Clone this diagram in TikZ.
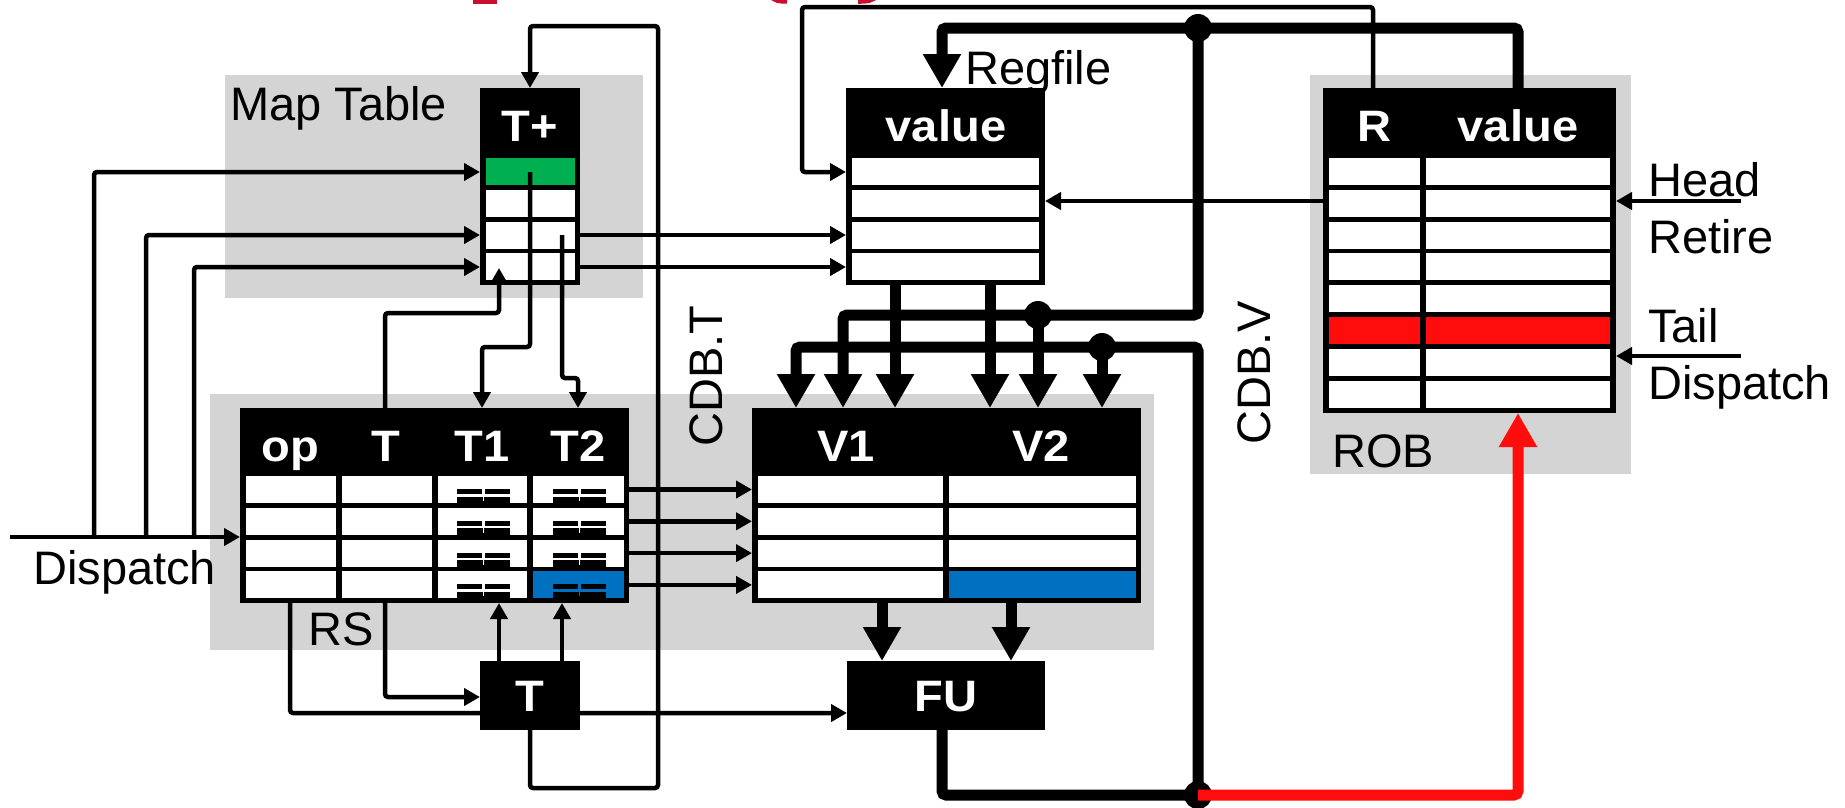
\documentclass[tikz,border=0pt]{standalone}
\usepackage{fontspec}
\setmainfont{Liberation Sans}
\newfontfamily\hdrfont[FakeStretch=1.07]{Liberation Sans}
\usetikzlibrary{arrows.meta}
\definecolor{panelgray}{RGB}{212,212,212}
\definecolor{gr}{RGB}{0,176,80}
\definecolor{rd}{RGB}{255,12,12}
\definecolor{bl}{RGB}{0,112,192}
\definecolor{crim}{RGB}{200,16,46}
\tikzset{
  wire/.style={line width=4.5pt, rounded corners=3pt},
  bus/.style={line width=11pt, rounded corners=4pt},
  arr/.style={-{Triangle[length=16pt,width=17pt]}},
  barr/.style={-{Triangle[length=34pt,width=36pt]}},
  lbl/.style={font=\fontsize{47}{50}\selectfont, inner sep=0pt},
  hdr/.style={font=\hdrfont\bfseries\fontsize{44}{47}\selectfont, text=white, inner sep=0pt},
  dotn/.style={circle, fill=black, inner sep=0pt, minimum size=28pt},
}
\begin{document}
\begin{tikzpicture}[x=1pt,y=-1pt]
\clip (0,0) rectangle (1845,807);
\fill[white] (0,0) rectangle (1845,807);

% red fragments at the top edge
\fill[crim] (473,0) rectangle (497,3.5);
\draw[crim, line width=4.5pt] (770,-5) to[out=-60,in=180] (787,1.5);
\draw[crim, line width=4.5pt] (858,1.5) to[out=0,in=-120] (877,-5);

% panels
\fill[panelgray] (225,75) rectangle (643,298);
\fill[panelgray] (210,394) rectangle (1154,650);
\fill[panelgray] (1310,75) rectangle (1631,474);

% panel labels
\node[lbl,anchor=base west] (lmap) at (230,120) {Map Table};
\node[lbl,anchor=base west] (lrs) at (308,645) {RS};
\node[lbl,anchor=base west] (lrob) at (1332,467) {ROB};
\node[lbl,anchor=base west] (lreg) at (965,84) {Regfile};
\node[lbl,anchor=base west] (lhead) at (1648,196) {Head};
\node[lbl,anchor=base west] (lret) at (1648,253) {Retire};
\node[lbl,anchor=base west] (ltail) at (1648,342) {Tail};
\node[lbl,anchor=base west] (ldisp2) at (1648,399) {Dispatch};
\node[lbl,anchor=base west] (ldisp) at (33,584) {Dispatch};
\node[lbl,rotate=90] (lcdbt) at (706,376) {CDB.T};
\node[lbl,rotate=90] (lcdbv) at (1254,373) {CDB.V};

% ---------- Map table ----------
\fill (480,88) rectangle (580,285);
\foreach \i in {0,...,3} \fill[white] (485.5,158+31.8*\i) rectangle (574.5,185+31.8*\i);
\fill[gr] (485.5,158) rectangle (574.5,185);
\node[hdr,anchor=base] (hTp) at (530,141) {T+};

% ---------- Regfile ----------
\fill (846,88) rectangle (1045,285);
\foreach \i in {0,...,3} \fill[white] (852,158+31.8*\i) rectangle (1039,185+31.8*\i);
\node[hdr,anchor=base] (hRv) at (946,141) {value};

% ---------- ROB ----------
\fill (1323,88) rectangle (1616,413);
\foreach \i in {0,...,7}{
  \fill[white] (1329,158+31.8*\i) rectangle (1419.5,185+31.8*\i);
  \fill[white] (1425.5,158+31.8*\i) rectangle (1610,185+31.8*\i);
}
\fill[rd] (1329,317) rectangle (1419.5,344);
\fill[rd] (1425.5,317) rectangle (1610,344);
\node[hdr,anchor=base] (hR) at (1374,141) {R};
\node[hdr,anchor=base] (hRobv) at (1518,141) {value};

% ---------- RS ----------
\fill (240,408) rectangle (629,603);
\foreach \i in {0,...,3}{
  \fill[white] (245.5,476+31.8*\i) rectangle (335.5,503+31.8*\i);
  \fill[white] (341.5,476+31.8*\i) rectangle (431.5,503+31.8*\i);
  \fill[white] (437.5,476+31.8*\i) rectangle (527,503+31.8*\i);
  \fill[white] (533,476+31.8*\i) rectangle (623.5,503+31.8*\i);
}
\fill[bl] (533,571.4) rectangle (623.5,598.4);
\foreach \i in {0,...,3}{
  \pgfmathsetmacro\yb{503+31.8*\i}
  \foreach \g in {483.5,579.5}{
    \fill (\g-27,\yb-14) rectangle (\g-1.5,\yb-9);
    \fill (\g+1.5,\yb-14) rectangle (\g+26,\yb-9);
    \fill (\g-27,\yb-6.5) rectangle (\g+26,\yb);
    \fill[white] (\g-0.8,\yb-6.5) rectangle (\g+0.8,\yb-2);
  }
}
\fill[bl] (578.7,591.9) rectangle (580.3,596.4);
\node[hdr,anchor=base] (hop) at (290,461) {op};
\node[hdr,anchor=base] (hT) at (386,461) {T};
\node[hdr,anchor=base] (hT1) at (482,461) {T1};
\node[hdr,anchor=base] (hT2) at (578,461) {T2};

% ---------- V1/V2 ----------
\fill (752,408) rectangle (1141,603);
\foreach \i in {0,...,3}{
  \fill[white] (757.5,476+31.8*\i) rectangle (942.5,503+31.8*\i);
  \fill[white] (949,476+31.8*\i) rectangle (1135.5,503+31.8*\i);
}
\fill[bl] (949,571.4) rectangle (1135.5,598.4);
\node[hdr,anchor=base] (hV1) at (846,461) {V1};
\node[hdr,anchor=base] (hV2) at (1041,461) {V2};

% ---------- thin wires ----------
\coordinate (dsrc) at (10,537);
\draw[wire,arr] (dsrc) -- (240,537);
\draw[wire,arr] (94,537) -- (94,172) -- (480,172);
\draw[wire,arr] (146,537) -- (146,235) -- (480,235);
\draw[wire,arr] (194,537) -- (194,267) -- (480,267);
\draw[wire,arr] (580,235) -- (846,235);
\draw[wire,arr] (580,267) -- (846,267);
\draw[wire,arr] (530,172) -- (530,347) -- (482,347) -- (482,408);
\draw[wire,arr] (562,235) -- (562,378) -- (578,378) -- (578,408);
\draw[wire,arr] (385,408) -- (385,313) -- (499,313) -- (499,268);
\draw[wire,arr] (530,730) -- (530,788) -- (658,788) -- (658,26) -- (530,26) -- (530,88);
\draw[wire,arr] (290,603) -- (290,713) -- (847,713);
\draw[wire,arr] (385,603) -- (385,697) -- (480,697);
\draw[wire,arr] (499,661) -- (499,603);
\draw[wire,arr] (562,661) -- (562,603);
\foreach \yy in {489.5,521.3,553.1,584.9} \draw[wire,arr] (629,\yy) -- (752,\yy);
\draw[wire,arr] (1373,88) -- (1373,7) -- (802,7) -- (802,172) -- (846,172);
\draw[wire,arr] (1323,201) -- (1045,201);
\coordinate (hsrc) at (1741,201);
\coordinate (tsrc) at (1741,356);
\draw[wire,arr] (hsrc) -- (1616,201);
\draw[wire,arr] (tsrc) -- (1616,356);

% ---------- thick buses ----------
\draw[bus,barr] (1518,88) -- (1518,28) -- (942,28) -- (942,88);
\draw[bus,barr] (1198,28) -- (1198,315) -- (843,315) -- (843,408);
\draw[bus,barr] (1038,315) -- (1038,408);
\draw[bus,barr] (895,285) -- (895,408);
\draw[bus,barr] (990,285) -- (990,408);
\draw[bus] (942,730) -- (942,795) -- (1198,795);
\draw[bus,barr] (1198,795) -- (1198,347) -- (796,347) -- (796,408);
\draw[bus,barr] (1102,347) -- (1102,408);
\draw[bus,barr] (882,603) -- (882,661);
\draw[bus,barr] (1011,603) -- (1011,661);

\node[dotn] (d1) at (1198,28) {};
\node[dotn] (d2) at (1038,315) {};
\node[dotn] (d3) at (1102,347) {};
\node[dotn] (d4) at (1198,795) {};

\draw[bus,rd,barr] (1198,795) -- (1518,795) -- (1518,413);

% ---------- T and FU boxes ----------
\fill (480,661) rectangle (580,730);
\node[hdr,anchor=base] (tT) at (530,711) {T};
\fill (847,661) rectangle (1045,730);
\node[hdr,anchor=base] (tFU) at (946,711) {FU};
\end{tikzpicture}
\end{document}
